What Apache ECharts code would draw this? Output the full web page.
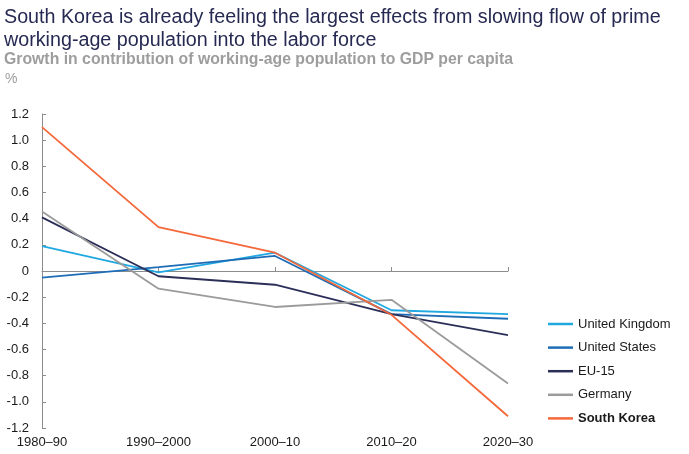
<!DOCTYPE html>
<html>
<head>
<meta charset="utf-8">
<script src="https://cdn.jsdelivr.net/npm/echarts@6/dist/echarts.min.js"></script>
<style>
  html, body { margin: 0; padding: 0; background: #fff; }
  #chart { width: 689px; height: 454px; }
</style>
</head>
<body>
<div id="chart"></div>
<script>
// Decades on the horizontal axis
const periods = ['1980–90', '1990–2000', '2000–10', '2010–20', '2020–30'];

// Growth in contribution of working-age population to GDP per capita, %
const unitedKingdom = [0.19, -0.01, 0.14, -0.30, -0.33];
const unitedStates  = [-0.05, 0.03, 0.115, -0.33, -0.365];
const eu15          = [0.41, -0.04, -0.105, -0.33, -0.49];
const germany       = [0.455, -0.135, -0.275, -0.22, -0.86];
const southKorea    = [1.10, 0.335, 0.14, -0.335, -1.11];

const seriesNames  = ['United Kingdom', 'United States', 'EU-15', 'Germany', 'South Korea'];
const seriesValues = [unitedKingdom, unitedStates, eu15, germany, southKorea];
const seriesColors = ['#20a8e1', '#1f6cb6', '#2b2f58', '#9b9b9b', '#f4683a'];

const sans = '"Liberation Sans", Arial, sans-serif';

// Heading text line, slightly tightened horizontally
function headingText(str, x, y, size, weight, color, squeeze) {
  return {
    type: 'text', x: x, y: y, scaleX: squeeze, scaleY: 1, silent: true,
    style: {
      text: str, fill: color,
      font: weight + ' ' + size + 'px ' + sans,
      align: 'left', verticalAlign: 'middle'
    }
  };
}

const chart = echarts.init(document.getElementById('chart'), null, { renderer: 'canvas' });

chart.setOption({
  animation: false,
  backgroundColor: '#ffffff',
  graphic: [
    headingText('South Korea is already feeling the largest effects from slowing flow of prime', 4, 17.5, 20, 'normal', '#262a52', 0.985),
    headingText('working-age population into the labor force', 4, 40, 20, 'normal', '#262a52', 0.985),
    headingText('Growth in contribution of working-age population to GDP per capita', 4, 59.5, 15.8, 'bold', '#9d9d9d', 1),
    headingText('%', 5, 79, 14, 'normal', '#9d9d9d', 1)
  ],
  legend: {
    orient: 'vertical',
    left: 543, top: 312,
    icon: 'rect',
    itemWidth: 25, itemHeight: 2.5, itemGap: 9.6,
    data: seriesNames,
    textStyle: {
      fontFamily: sans, fontSize: 13, color: '#1a1a1a', lineHeight: 14,
      rich: { b: { fontFamily: sans, fontSize: 13, fontWeight: 'bold', color: '#1a1a1a', lineHeight: 14 } }
    },
    formatter: function (name) {
      return name === 'South Korea' ? '{b|' + name + '}' : name;
    }
  },
  grid: { left: 42, right: 181, top: 114, bottom: 26, containLabel: false },
  xAxis: [
    {
      type: 'category', data: periods, boundaryGap: false,
      axisLine: { onZero: true, lineStyle: { color: '#8c8c8c', width: 1 } },
      axisTick: { show: true, inside: true, length: 4, lineStyle: { color: '#8c8c8c' } },
      axisLabel: { show: false },
      splitLine: { show: false }
    },
    {
      type: 'category', data: periods, boundaryGap: false, position: 'bottom',
      axisLine: { show: false, onZero: false },
      axisTick: { show: false },
      axisLabel: { show: true, margin: 8, fontFamily: sans, fontSize: 13, color: '#1a1a1a' },
      splitLine: { show: false }
    }
  ],
  yAxis: {
    type: 'value', min: -1.2, max: 1.2, interval: 0.2,
    axisLine: { show: true, lineStyle: { color: '#8c8c8c', width: 1 } },
    axisTick: { show: true, inside: true, length: 4, lineStyle: { color: '#8c8c8c' } },
    splitLine: { show: false },
    axisLabel: {
      margin: 13, fontFamily: sans, fontSize: 13, color: '#1a1a1a',
      formatter: function (v) {
        const r = Math.round(v * 10) / 10;
        return r === 0 ? '0' : r.toFixed(1);
      }
    }
  },
  series: seriesNames.map(function (name, i) {
    return {
      name: name,
      type: 'line',
      xAxisIndex: 0,
      data: seriesValues[i],
      symbol: 'none',
      color: seriesColors[i],
      lineStyle: { width: 1.8, color: seriesColors[i] },
      z: 2 + i
    };
  })
});
</script>
</body>
</html>
